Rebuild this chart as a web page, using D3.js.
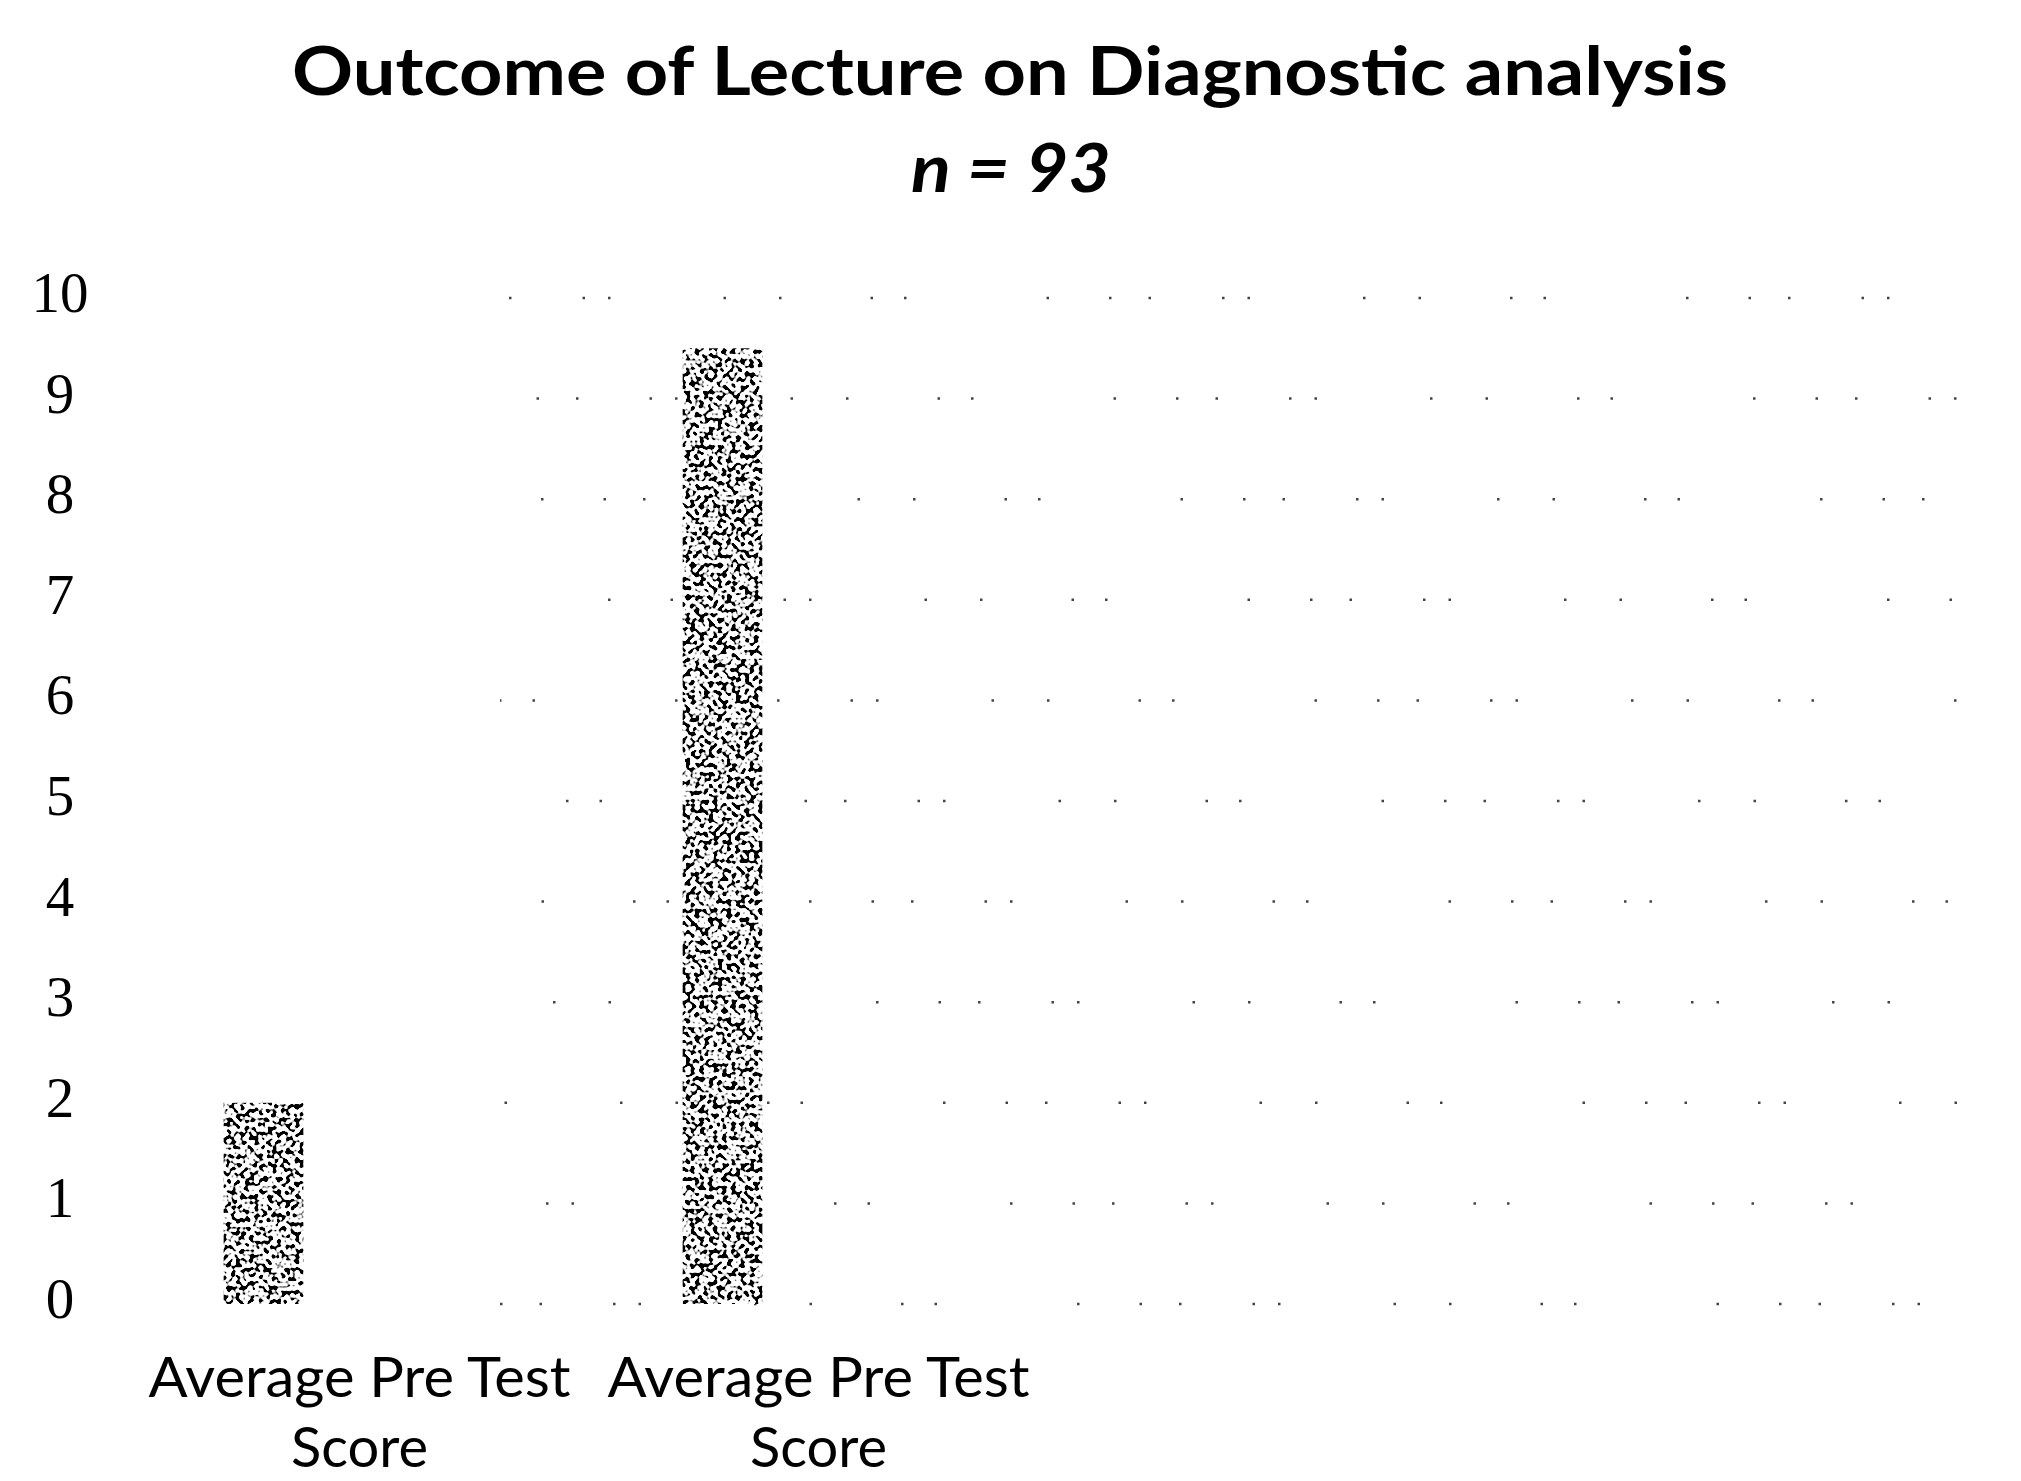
<!DOCTYPE html>
<html>
<head>
<meta charset="utf-8">
<script src="https://cdn.jsdelivr.net/npm/d3@7"></script>
<style>
  html, body { margin: 0; padding: 0; background: #fff; }
</style>
</head>
<body>
<div id="chart"></div>
<script>
// chart values
var titleText = "Outcome of Lecture on Diagnostic analysis";
var subtitleText = "n = 93";
var categories = ["Average Pre Test Score", "Average Pre Test Score", "", ""];
var labelLines = [["Average Pre Test", "Score"], ["Average Pre Test", "Score"], [], []];
var scores = [2.0, 9.5];
var yTicks = [0, 1, 2, 3, 4, 5, 6, 7, 8, 9, 10];
var slots = ["s0", "s1", "s2"];

var width = 2021;
var height = 1481;

var svg = d3.select("#chart").append("svg")
    .attr("width", width)
    .attr("height", height);

var defs = svg.append("defs");

// speckled fill, like the dithered bars of the original
var speckle = defs.append("filter")
    .attr("id", "speckle")
    .attr("x", 0).attr("y", 0)
    .attr("width", 1).attr("height", 1);
speckle.append("feTurbulence")
    .attr("type", "fractalNoise")
    .attr("baseFrequency", 0.22)
    .attr("numOctaves", 1)
    .attr("seed", 7)
    .attr("result", "noise");
speckle.append("feColorMatrix")
    .attr("in", "noise")
    .attr("type", "matrix")
    .attr("values", "0 0 0 0 0  0 0 0 0 0  0 0 0 0 0  14 0 0 0 -6.9")
    .attr("result", "dots");
speckle.append("feFlood")
    .attr("flood-color", "#fff")
    .attr("result", "paper");
var merge = speckle.append("feMerge").attr("result", "mixed");
merge.append("feMergeNode").attr("in", "paper");
merge.append("feMergeNode").attr("in", "dots");
speckle.append("feComposite")
    .attr("in", "mixed")
    .attr("in2", "SourceGraphic")
    .attr("operator", "in");

var x = d3.scaleBand()
    .domain(d3.range(categories.length))
    .range([130, 1966]);

var bw = x.bandwidth();
var x1 = d3.scaleBand()
    .domain(slots)
    .range([bw / 2 - 144, bw / 2 + 144])
    .paddingInner(0.17)
    .paddingOuter(0.085);

var y = d3.scaleLinear()
    .domain([0, 10])
    .range([1304, 298]);

// sparse dotted remnants of gridlines
svg.append("g")
    .selectAll("line")
    .data(yTicks)
    .join("line")
    .attr("x1", 500)
    .attr("x2", x.range()[1])
    .attr("y1", d => y(d))
    .attr("y2", d => y(d))
    .attr("stroke", "#444")
    .attr("stroke-width", 2.5)
    .attr("stroke-dasharray", "2.5 37 2.5 71 2.5 23 2.5 113 2.5 53 2.5 89 2.5 31 2.5 140 2.5 60")
    .attr("stroke-dashoffset", (d, i) => i * 67);

// y tick labels
svg.append("g")
    .selectAll("text")
    .data(yTicks)
    .join("text")
    .attr("x", 60)
    .attr("y", d => y(d) - 6)
    .attr("dy", "0.35em")
    .attr("text-anchor", "middle")
    .style("font-family", "'Liberation Serif', serif")
    .style("font-size", "57px")
    .style("fill", "#000")
    .text(d => d);

// bars
svg.append("g")
    .selectAll("rect")
    .data(scores)
    .join("rect")
    .attr("x", (d, i) => x(i) + x1("s0"))
    .attr("y", d => y(d))
    .attr("width", x1.bandwidth())
    .attr("height", d => y(0) - y(d))
    .attr("fill", "#888")
    .attr("filter", "url(#speckle)");

// category labels
var catLabels = svg.append("g")
    .selectAll("text")
    .data(labelLines)
    .join("text")
    .attr("text-anchor", "middle")
    .style("font-family", "Lato, sans-serif")
    .style("font-size", "56px")
    .style("fill", "#000");

catLabels.each(function(lines, i) {
    var t = d3.select(this);
    lines.forEach(function(line, j) {
        var span = t.append("tspan")
            .attr("x", x(i) + bw / 2)
            .attr("y", 1397 + j * 70)
            .text(line);
        if (j === 0) {
            span.attr("textLength", 422).attr("lengthAdjust", "spacingAndGlyphs");
        }
    });
});

// title
svg.append("text")
    .attr("x", 1010)
    .attr("y", 95)
    .attr("text-anchor", "middle")
    .attr("textLength", 1436)
    .attr("lengthAdjust", "spacingAndGlyphs")
    .style("font-family", "Lato, sans-serif")
    .style("font-weight", "bold")
    .style("font-size", "66px")
    .text(titleText);

svg.append("text")
    .attr("x", 1011)
    .attr("y", 192)
    .attr("text-anchor", "middle")
    .attr("textLength", 200)
    .attr("lengthAdjust", "spacingAndGlyphs")
    .style("font-family", "Lato, sans-serif")
    .style("font-weight", "bold")
    .style("font-style", "italic")
    .style("font-size", "67px")
    .text(subtitleText);
</script>
</body>
</html>
